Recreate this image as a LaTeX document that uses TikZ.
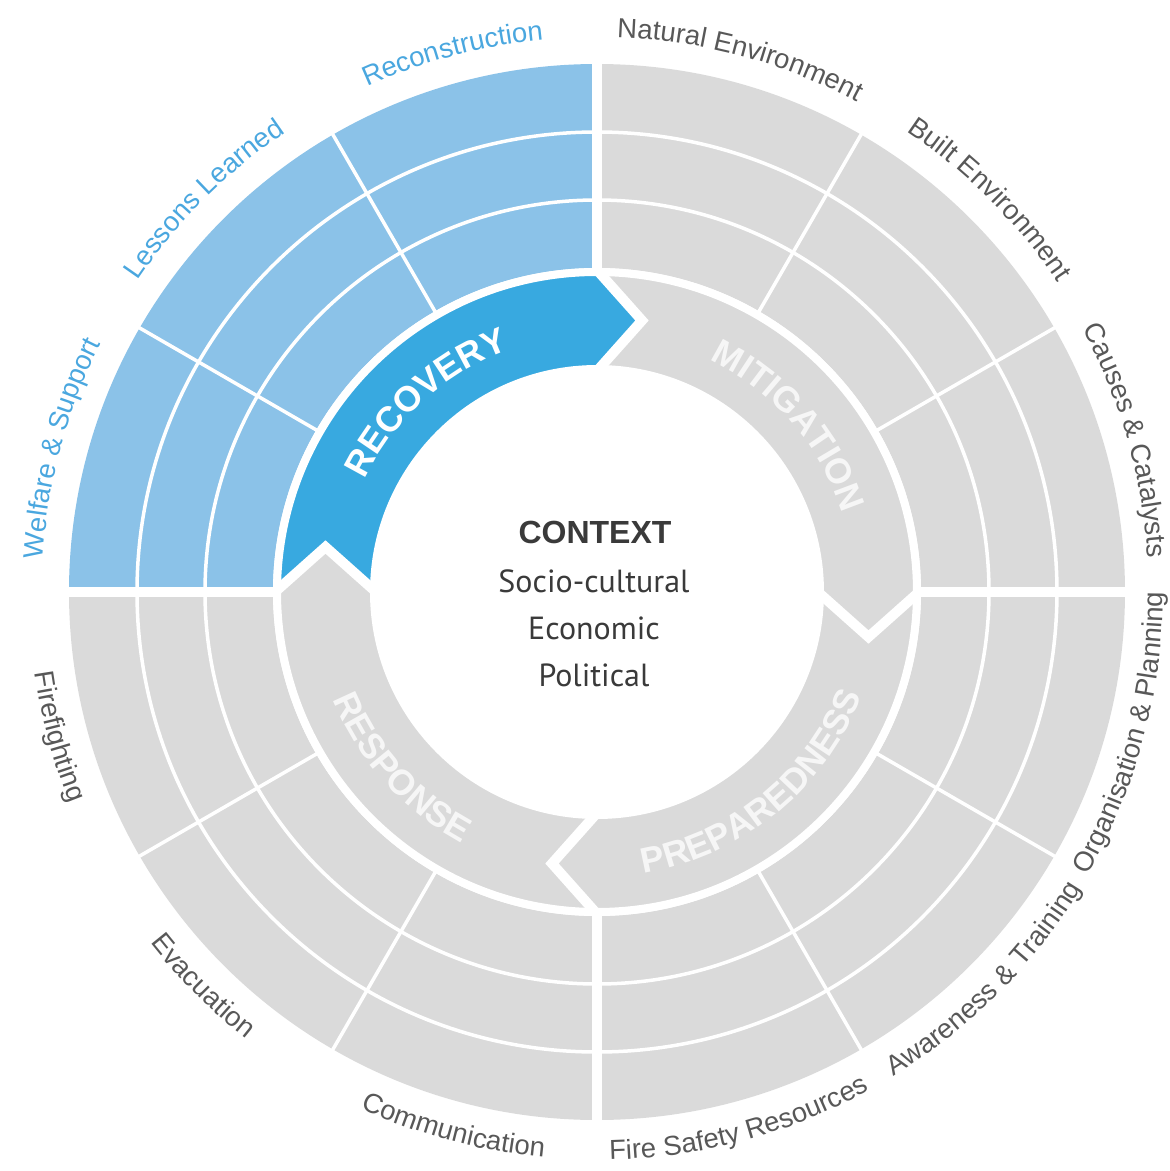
\documentclass[tikz,border=0pt]{standalone}
\usepackage{fontspec}
\setmainfont{Liberation Sans}
\newfontfamily\ctxfont{PT Sans}
\usetikzlibrary{decorations.text,calc}
\definecolor{quadblue}{HTML}{8BC2E8}
\definecolor{quadgrey}{HTML}{DADADA}
\definecolor{bandblue}{HTML}{38A9E0}
\definecolor{labgrey}{HTML}{585858}
\definecolor{labblue}{HTML}{4AA7DF}
\definecolor{phgrey}{HTML}{F6F6F6}
\definecolor{ctxtext}{HTML}{3A3A3A}
\newcommand\labfont{\fontsize{27.5}{32}\selectfont}
\newcommand\phfont{\fontsize{35.5}{40}\selectfont\bfseries}
% phase piece: start angle, end angle, colour
\newcommand\phasepiece[3]{%
  \fill[#3] (#1:320pt) arc[start angle=#1,end angle=#2,radius=320pt]
    -- ($(#2:271.5pt)+({#2-90}:45pt)$) -- (#2:223pt)
    arc[start angle=#2,end angle=#1,radius=223pt]
    -- ($(#1:271.5pt)+({#1-90}:45pt)$) -- cycle;}
% clockwise label (top half): centre angle, radius, format, text
\newcommand\cwlabel[4]{%
  \pgfmathsetmacro\sa{#1+50}\pgfmathsetmacro\ea{#1-50}%
  \path[decorate,decoration={text along path,text align=center,text={|#3|#4}}]
    (\sa:#2) arc[start angle=\sa,end angle=\ea,radius=#2];}
% counterclockwise label (bottom half)
\newcommand\ccwlabel[4]{%
  \pgfmathsetmacro\sa{#1-50}\pgfmathsetmacro\ea{#1+50}%
  \path[decorate,decoration={text along path,text align=center,text={|#3|#4}}]
    (\sa:#2) arc[start angle=\sa,end angle=\ea,radius=#2];}
\begin{document}
\begin{tikzpicture}[x=1pt,y=1pt]
\useasboundingbox (-597,-579) rectangle (573,592);
% outer quadrants
\fill[quadblue] (0,0) -- (90:528pt) arc[start angle=90,end angle=180,radius=528pt] -- cycle;
\fill[quadgrey] (0,0) -- (180:528pt) arc[start angle=180,end angle=450,radius=528pt] -- cycle;
% ring and sector lines
\draw[white,line width=3.5pt] (0,0) circle[radius=460pt] (0,0) circle[radius=392pt];
\foreach \a in {30,60,120,150,210,240,300,330}
  \draw[white,line width=3.5pt] (0,0) -- (\a:540pt);
\draw[white,line width=10pt] (-545,0) -- (545,0) (0,-545) -- (0,545);
\fill[white] (0,0) circle[radius=324pt];
% phase band
\phasepiece{180}{90}{bandblue}
\phasepiece{90}{0}{quadgrey}
\phasepiece{0}{-90}{quadgrey}
\phasepiece{-90}{-180}{quadgrey}
\foreach \a in {0,90,180,270}
  \draw[white,line width=10pt,line join=miter]
    (\a:322pt) -- ($(\a:271.5pt)+({\a-90}:45pt)$) -- (\a:221pt);
\draw[white,line width=8pt] (0,0) circle[radius=320pt] (0,0) circle[radius=223pt];
% phase labels
\cwlabel{132}{258pt}{\phfont\color{white}}{RECOVERY}
\cwlabel{41}{258pt}{\phfont\color{phgrey}}{MITIGATION}
\ccwlabel{-51}{285pt}{\phfont\color{phgrey}}{PREPAREDNESS}
\ccwlabel{-138}{285pt}{\phfont\color{phgrey}}{RESPONSE}
% outer labels
\cwlabel{105}{555pt}{\labfont\color{labblue}}{Reconstruction}
\cwlabel{135}{555pt}{\labfont\color{labblue}}{Lessons Learned}
\cwlabel{165}{555pt}{\labfont\color{labblue}}{Welfare {\&} Support}
\cwlabel{75}{555pt}{\labfont\color{labgrey}}{Natural Environment}
\cwlabel{45}{555pt}{\labfont\color{labgrey}}{Built Environment}
\cwlabel{16}{552pt}{\labfont\color{labgrey}}{Causes {\&} Catalysts}
\ccwlabel{-15}{566pt}{\labfont\color{labgrey}}{Organisation {\&} Planning}
\ccwlabel{-45}{568pt}{\labfont\color{labgrey}}{Awareness {\&} Training}
\ccwlabel{-75}{568pt}{\labfont\color{labgrey}}{Fire Safety Resources}
\ccwlabel{-105}{568pt}{\labfont\color{labgrey}}{Communication}
\ccwlabel{-135}{568pt}{\labfont\color{labgrey}}{Evacuation}
\ccwlabel{-165}{568pt}{\labfont\color{labgrey}}{Firefighting}
% centre text
\node[anchor=base,inner sep=0,text=ctxtext,font=\fontsize{32}{38}\selectfont\bfseries] (ctx) at (-2,49) {CONTEXT};
\node[anchor=base,inner sep=0,text=ctxtext,font=\ctxfont\fontsize{32}{38}\selectfont] (soc) at (-3,0) {Socio-cultural};
\node[anchor=base,inner sep=0,text=ctxtext,font=\ctxfont\fontsize{32}{38}\selectfont] (eco) at (-3,-47) {Economic};
\node[anchor=base,inner sep=0,text=ctxtext,font=\ctxfont\fontsize{32}{38}\selectfont] (pol) at (-3,-94) {Political};
\end{tikzpicture}
\end{document}
